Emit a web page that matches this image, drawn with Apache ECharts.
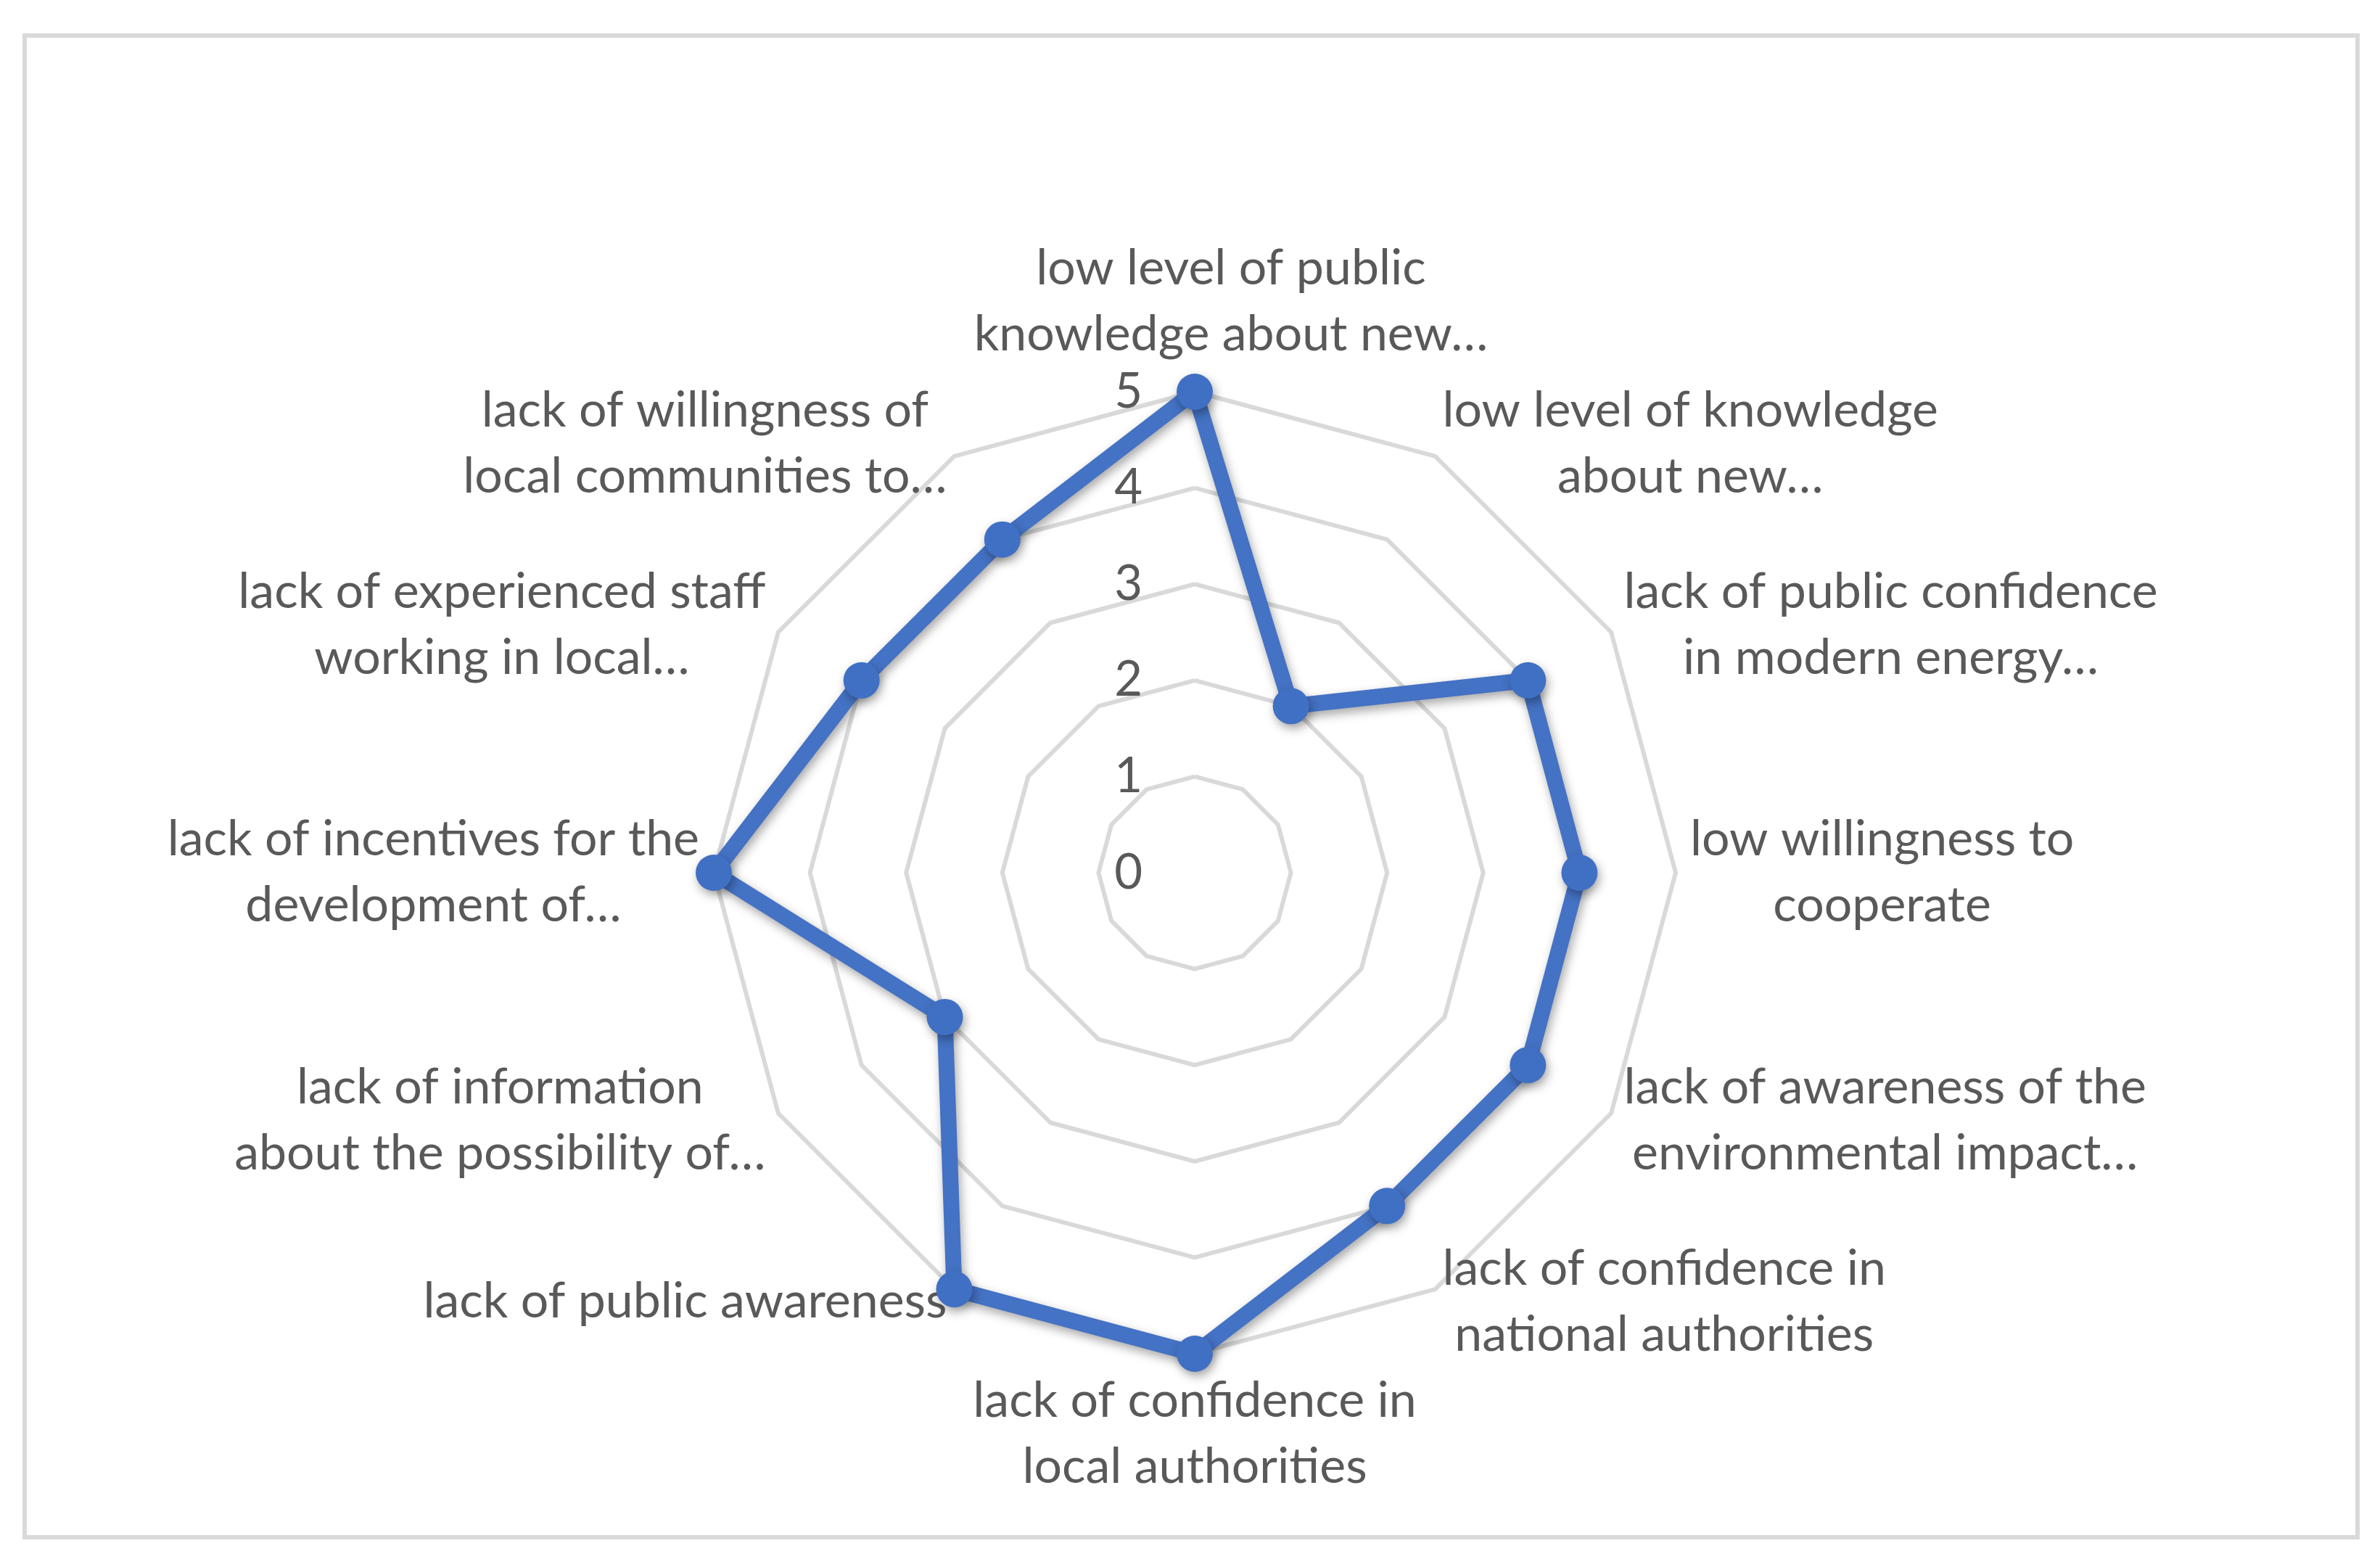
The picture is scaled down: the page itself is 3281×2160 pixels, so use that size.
<!DOCTYPE html>
<html>
<head>
<meta charset="utf-8">
<script src="https://cdn.jsdelivr.net/npm/echarts@6/dist/echarts.min.js"></script>
<style>
  html, body { margin: 0; padding: 0; background: #fff; }
  #frame {
    position: absolute; left: 31px; top: 46px; width: 3222px; height: 2076px;
    border: 6px solid #d9d9d9; box-sizing: border-box;
  }
  #canvas { position: absolute; left: 0; top: 0; width: 3281px; height: 2160px; }
</style>
</head>
<body>
<div id="frame"></div>
<div id="canvas"></div>
<script>
// indicators listed counter-clockwise from the top, the way the radar lays them out
var categories = [
    'low level of public\nknowledge about new…',
    'lack of willingness of\nlocal communities to…',
    'lack of experienced staff\nworking in local…',
    'lack of incentives for the\ndevelopment of…',
    'lack of information\nabout the possibility of…',
    'lack of public awareness',
    'lack of confidence in\nlocal authorities',
    'lack of confidence in\nnational authorities',
    'lack of awareness of the\nenvironmental impact…',
    'low willingness to\ncooperate',
    'lack of public confidence\nin modern energy…',
    'low level of knowledge\nabout new…'
];
var values = [5, 4, 4, 5, 3, 5, 5, 4, 4, 4, 4, 2];
var axisMax = 5;

var textColor = '#595959';
var fontFamily = 'Lato, "Open Sans", sans-serif';

var myChart = echarts.init(document.getElementById('canvas'));

var indicators = categories.map(function (name, i) {
    var ind = { name: name, min: 0, max: axisMax };
    if (i === 0) {
        // only the vertical axis shows the 0..5 scale
        ind.axisLabel = {
            show: true,
            color: textColor,
            fontFamily: fontFamily,
            fontSize: 67,
            margin: 72,
            showMinLabel: true,
            showMaxLabel: true
        };
    }
    return ind;
});

option = {
    animation: false,
    radar: {
        center: [1647, 1203],
        radius: 663,
        startAngle: 90,
        shape: 'polygon',
        splitNumber: 5,
        indicator: indicators,
        axisName: {
            color: textColor,
            fontFamily: fontFamily,
            fontSize: 68,
            lineHeight: 91,
            formatter: function (name) {
                // centre every line inside its label block, like the original;
                // the top label sits a little right of the axis in the original
                var style = name === categories[0] ? 't' : 'c';
                return name.split('\n').map(function (s) {
                    return '{' + style + '|' + s + '}';
                }).join('\n');
            },
            rich: {
                c: {
                    align: 'center',
                    color: textColor,
                    fontFamily: fontFamily,
                    fontSize: 68,
                    lineHeight: 91
                },
                t: {
                    align: 'center',
                    color: textColor,
                    fontFamily: fontFamily,
                    fontSize: 68,
                    lineHeight: 91,
                    padding: [0, 0, 0, 100]
                }
            }
        },
        nameGap: 20,
        axisLine: { show: false },
        axisTick: { show: false },
        axisLabel: { show: false },
        splitArea: { show: false },
        splitLine: {
            show: true,
            lineStyle: {
                color: '#d9d9d9',
                width: 6
            }
        }
    },
    series: [{
        type: 'radar',
        symbol: 'circle',
        symbolSize: 50,
        lineStyle: {
            color: '#4472c4',
            width: 22,
            shadowColor: 'rgba(0,0,0,0.35)',
            shadowBlur: 14,
            shadowOffsetX: 3,
            shadowOffsetY: 6
        },
        itemStyle: {
            color: '#4070c4',
            shadowColor: 'rgba(0,0,0,0.35)',
            shadowBlur: 14,
            shadowOffsetX: 3,
            shadowOffsetY: 6
        },
        data: [{ value: values, name: 'score' }]
    }]
};
myChart.setOption(option);
</script>
</body>
</html>
